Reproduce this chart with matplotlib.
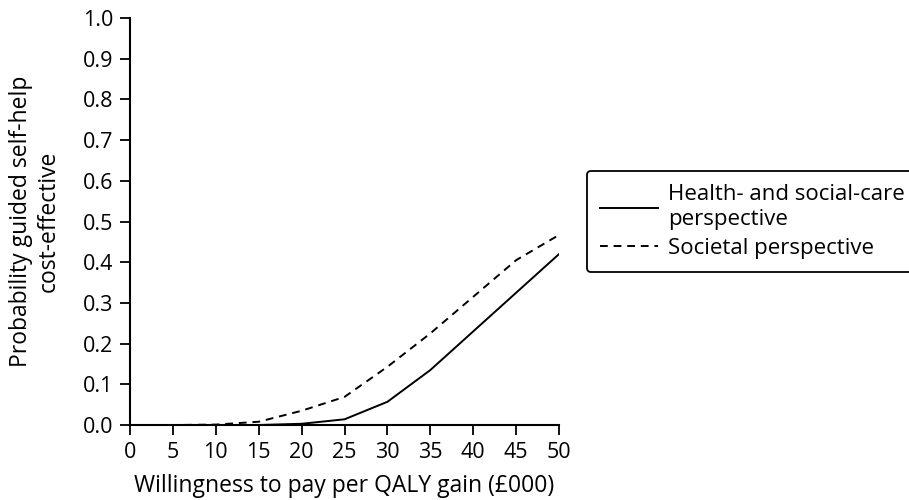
import matplotlib
matplotlib.use("Agg")
import matplotlib.pyplot as plt

plt.rcParams['font.family'] = ['Open Sans', 'DejaVu Sans']

wtp = [0, 5, 10, 15, 20, 25, 30, 35, 40, 45, 50]
health_social = [0.0, 0.0, 0.0, 0.0, 0.003, 0.014, 0.057, 0.135, 0.23, 0.325, 0.42]
societal = [0.0, 0.0, 0.001, 0.008, 0.035, 0.069, 0.143, 0.225, 0.315, 0.405, 0.467]
xticks = [0, 5, 10, 15, 20, 25, 30, 35, 40, 45, 50]
yticks = [0.0, 0.1, 0.2, 0.3, 0.4, 0.5, 0.6, 0.7, 0.8, 0.9, 1.0]

fs = 15.5
lfs = 16.5
fig = plt.figure(figsize=(9.09, 5.0), dpi=100)
ax = fig.add_axes([0.143, 0.15, 0.472, 0.814])

ax.plot(wtp, health_social, color='black', lw=1.4, label='Health- and social-care\nperspective')
ax.plot(wtp, societal, color='black', lw=1.4, ls=(0, (4, 3)), label='Societal perspective')

ax.set_xlim(0, 50)
ax.set_ylim(0, 1.0)
ax.set_xticks(xticks)
ax.set_xticklabels([str(x) for x in xticks])
ax.set_yticks(yticks)
ax.set_yticklabels([f"{y:.1f}" for y in yticks])
for s in ['top', 'right']:
    ax.spines[s].set_visible(False)
for s in ['left', 'bottom']:
    ax.spines[s].set_linewidth(1.5)
ax.tick_params(direction='out', length=7, width=1.3, labelsize=fs, colors='black', pad=5)
ax.set_xlabel('Willingness to pay per QALY gain (£000)', fontsize=lfs, labelpad=8)
ax.set_ylabel('Probability guided self-help\ncost-effective', fontsize=lfs, labelpad=16,
              linespacing=1.2)

leg = ax.legend(loc='upper left', bbox_to_anchor=(0.6458, 0.658), bbox_transform=fig.transFigure,
                fontsize=16, handlelength=2.6, handletextpad=0.45, labelspacing=0.35,
                frameon=True, fancybox=True, edgecolor='black', borderpad=0.6,
                borderaxespad=0)
leg.get_frame().set_linewidth(1.3)
leg.get_frame().set_alpha(1)
for t in leg.get_texts():
    t.set_linespacing(1.25)

fig.savefig('out.png', dpi=100)
